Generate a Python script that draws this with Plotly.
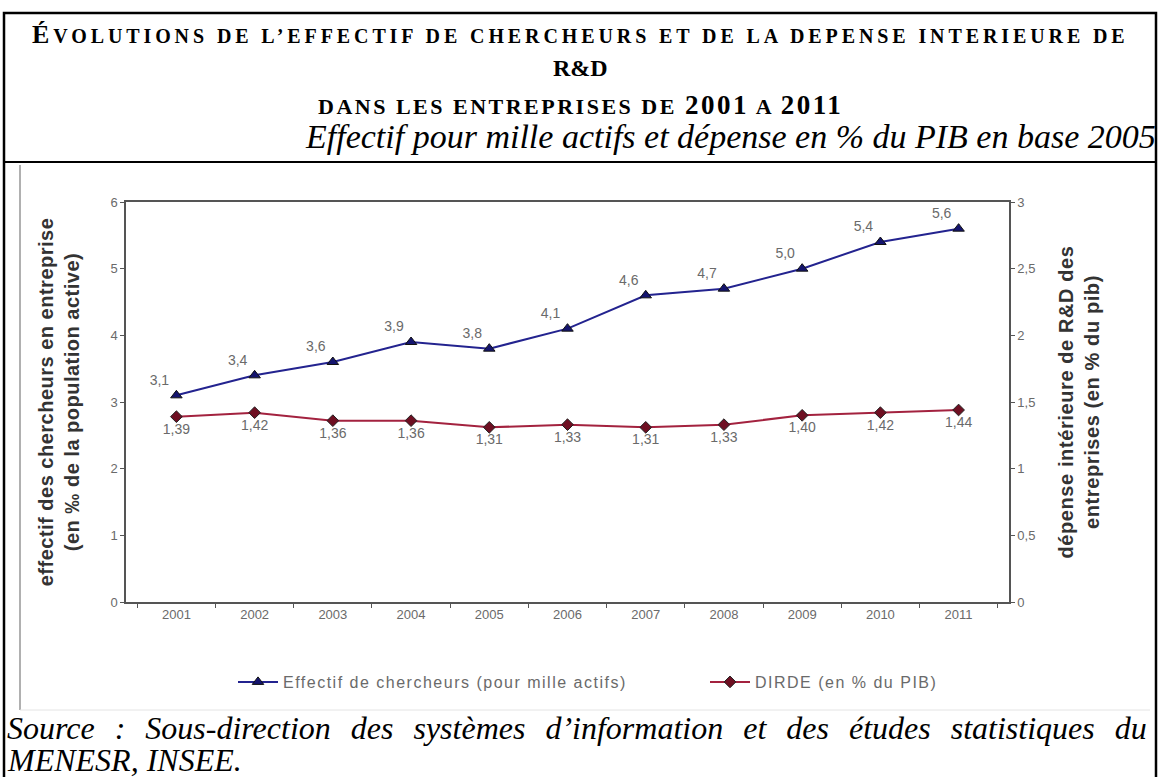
import plotly.graph_objs as go

W, H = 1158, 777

years = ['2001', '2002', '2003', '2004', '2005', '2006', '2007', '2008', '2009', '2010', '2011']
chercheurs = [3.1, 3.4, 3.6, 3.9, 3.8, 4.1, 4.6, 4.7, 5.0, 5.4, 5.6]
dirde = [1.39, 1.42, 1.36, 1.36, 1.31, 1.33, 1.31, 1.33, 1.40, 1.42, 1.44]

serif = 'Liberation Serif, Times New Roman, serif'
sans = 'Liberation Sans, Arial, sans-serif'
grey = '#6a6a6a'


def px_x(x):
    return x / W


def px_y(y):
    return 1 - y / H


def spaced(text, px):
    return f"<span style='letter-spacing:{px}px'>{text}</span>"


fig = go.Figure()

fig.add_trace(go.Scatter(
    x=years, y=chercheurs,
    name=spaced('Effectif de chercheurs (pour mille actifs)', 1.5),
    mode='lines+markers+text',
    line=dict(color='#23238f', width=2),
    marker=dict(symbol='triangle-up', size=10, color='#14146e', line=dict(color='#111', width=1)),
    texttemplate='%{y:.1f}',
    textposition='top left',
    textfont=dict(family=sans, size=14, color=grey),
    yaxis='y',
))

fig.add_trace(go.Scatter(
    x=years, y=dirde,
    name=spaced('DIRDE (en % du PIB)', 1.5),
    mode='lines+markers+text',
    line=dict(color='#a3223f', width=2),
    marker=dict(symbol='diamond', size=9, color='#6e0f22', line=dict(color='#222', width=1)),
    texttemplate='%{y:.2f}',
    textposition='bottom center',
    textfont=dict(family=sans, size=14, color=grey),
    yaxis='y2',
))

axis_common = dict(
    showgrid=False, zeroline=False, showline=True, linecolor='#555', linewidth=1.5,
    ticks='outside', ticklen=4, tickcolor='#555',
    tickfont=dict(family=sans, size=13, color=grey),
)

fig.update_layout(
    width=W, height=H,
    margin=dict(l=0, r=0, t=0, b=0, autoexpand=False),
    paper_bgcolor='white', plot_bgcolor='white',
    separators=', ',
    showlegend=True,
    legend=dict(
        orientation='h', x=px_x(233), xanchor='left', y=px_y(682), yanchor='middle',
        font=dict(family=sans, size=16, color=grey), bgcolor='rgba(0,0,0,0)',
        itemwidth=40, entrywidth=417, entrywidthmode='pixels',
    ),
    xaxis=dict(
        axis_common, domain=[px_x(126), px_x(1009)], type='category',
        tickson='boundaries', mirror=True,
    ),
    yaxis=dict(
        axis_common, range=[0, 6], dtick=1,
        title=dict(text='<b>' + spaced('effectif des chercheurs en entreprise<br>(en ‰ de la population active)', 0.5) + '</b>',
                   font=dict(family=sans, size=20, color='#333'), standoff=25),
        domain=[px_y(602), px_y(202)],
    ),
    yaxis2=dict(
        axis_common, range=[0, 3], dtick=0.5, overlaying='y', side='right',
        title=dict(text='<b>' + spaced('dépense intérieure de R&D des<br>entreprises (en % du pib)', 0.6) + '</b>',
                   font=dict(family=sans, size=20, color='#333'), standoff=25),
    ),
)

# page frame
fig.add_shape(type='rect', xref='paper', yref='paper', x0=px_x(4), x1=px_x(1156), y0=-0.05, y1=px_y(13),
              line=dict(color='black', width=2.5))
fig.add_shape(type='line', xref='paper', yref='paper', x0=px_x(4), x1=px_x(1156), y0=px_y(162), y1=px_y(162),
              line=dict(color='black', width=2))
fig.add_shape(type='line', xref='paper', yref='paper', x0=px_x(20), x1=px_x(20), y0=px_y(710), y1=px_y(165),
              line=dict(color='#b0b0b0', width=2))
fig.add_shape(type='line', xref='paper', yref='paper', x0=px_x(20), x1=px_x(1150), y0=px_y(710), y1=px_y(710),
              line=dict(color='#e4e4e4', width=1))


def note(text, x, y, size, xanchor='center'):
    fig.add_annotation(text=text, xref='paper', yref='paper', x=px_x(x), y=px_y(y),
                       xanchor=xanchor, yanchor='middle', showarrow=False,
                       font=dict(family=serif, size=size, color='black'))


note('<b>' + spaced("<span style='font-size:26px'>É</span>VOLUTIONS DE L’EFFECTIF DE CHERCHEURS ET DE LA DEPENSE INTERIEURE DE", 3.9) + '</b>',
     580, 35, 20)
note('<b>R&D</b>', 580, 68, 24)
note('<b>' + spaced("DANS LES ENTREPRISES DE <span style='font-size:27px'>2001</span> A <span style='font-size:27px'>2011</span>", 2.5) + '</b>',
     580, 105, 22)
note('<i>Effectif pour mille actifs et dépense en % du PIB en base 2005</i>', 303, 136, 34, 'left')
note("<i><span style='word-spacing:12px'>Source : Sous-direction des systèmes d’information et des études statistiques du</span></i>",
     5, 728, 32, 'left')
note('<i>MENESR, INSEE.</i>', 5, 760, 32, 'left')

fig.write_html('out.html', config={'displayModeBar': False},
               post_script="document.body.style.margin='0';")
